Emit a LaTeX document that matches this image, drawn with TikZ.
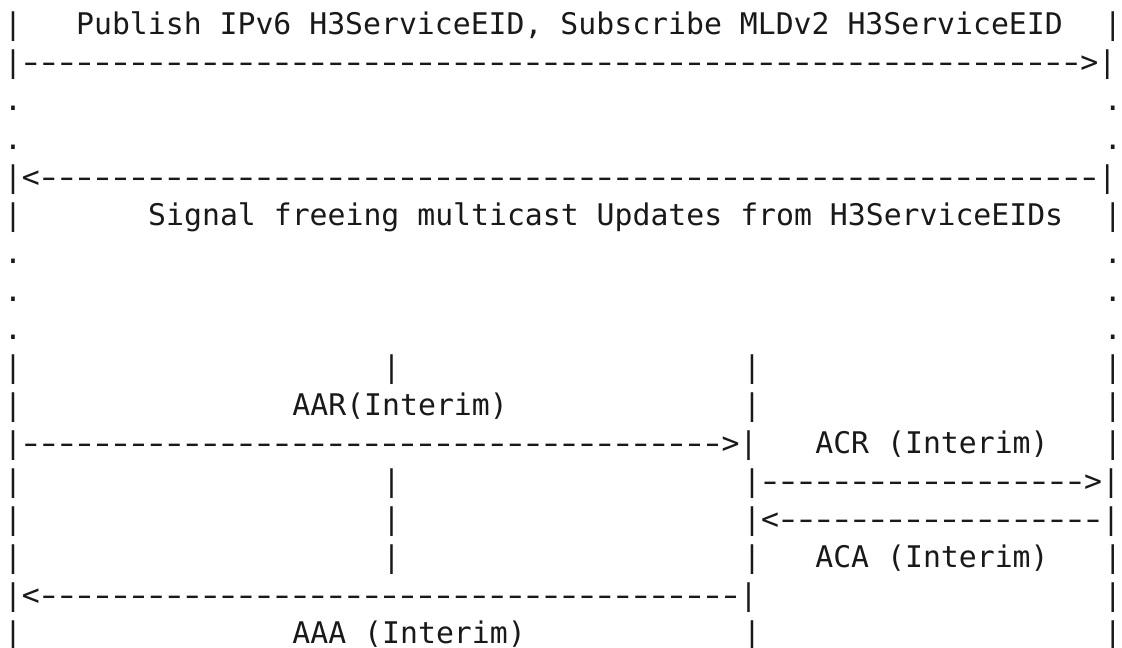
\documentclass[tikz,border=0pt]{standalone}
\usepackage{fontspec}
\newfontfamily\mono{DejaVu Sans Mono}[Scale=1]
% a hyphen widened to fill its monospace cell
\newcommand\dsh{\makebox[0.602em]{\scalebox{1.45}[1]{-}}}
\newcommand\rep[2]{\foreach\k in {1,...,#1}{#2}}
% one fragment of the text grid: name, row, column, text
\newcommand\grid[4]{\node[txt] (#1) at ({4+#3*18.03},{35+(#2-1)*38}) {#4};}
\tikzset{
  txt/.style={anchor=base west, inner sep=0pt, outer sep=0pt,
              font=\mono\fontsize{14.9pt}{18pt}\selectfont, text=black!90}
}
\begin{document}
\begin{tikzpicture}[x=0.5pt,y=-0.5pt]
\useasboundingbox[fill=white] (0,0) rectangle (1122,647);
% publish / subscribe
\grid{a1}{1}{0}{|}
\grid{a2}{1}{4}{Publish IPv6 H3ServiceEID, Subscribe MLDv2 H3ServiceEID}
\grid{a3}{1}{61}{|}
\grid{b1}{2}{0}{|\rep{59}{\dsh}>|}
\grid{c1}{3}{0}{.}\grid{c2}{3}{61}{.}
\grid{d1}{4}{0}{.}\grid{d2}{4}{61}{.}
% multicast update signal
\grid{e1}{5}{0}{|<\rep{59}{\dsh}|}
\grid{f1}{6}{0}{|}
\grid{f2}{6}{8}{Signal freeing multicast Updates from H3ServiceEIDs}
\grid{f3}{6}{61}{|}
\grid{g1}{7}{0}{.}\grid{g2}{7}{61}{.}
\grid{h1}{8}{0}{.}\grid{h2}{8}{61}{.}
\grid{i1}{9}{0}{.}\grid{i2}{9}{61}{.}
% interim accounting exchange
\grid{j1}{10}{0}{|}\grid{j2}{10}{21}{|}\grid{j3}{10}{41}{|}\grid{j4}{10}{61}{|}
\grid{k1}{11}{0}{|}\grid{k2}{11}{16}{AAR(Interim)}\grid{k3}{11}{41}{|}\grid{k4}{11}{61}{|}
\grid{l1}{12}{0}{|\rep{39}{\dsh}>|}\grid{l2}{12}{45}{ACR (Interim)}\grid{l3}{12}{61}{|}
\grid{m1}{13}{0}{|}\grid{m2}{13}{21}{|}\grid{m3}{13}{41}{|\rep{18}{\dsh}>|}
\grid{n1}{14}{0}{|}\grid{n2}{14}{21}{|}\grid{n3}{14}{41}{|<\rep{18}{\dsh}|}
\grid{o1}{15}{0}{|}\grid{o2}{15}{21}{|}\grid{o3}{15}{41}{|}\grid{o4}{15}{45}{ACA (Interim)}\grid{o5}{15}{61}{|}
\grid{p1}{16}{0}{|<\rep{39}{\dsh}|}\grid{p2}{16}{61}{|}
\grid{q1}{17}{0}{|}\grid{q2}{17}{16}{AAA (Interim)}\grid{q3}{17}{41}{|}\grid{q4}{17}{61}{|}
\end{tikzpicture}
\end{document}
